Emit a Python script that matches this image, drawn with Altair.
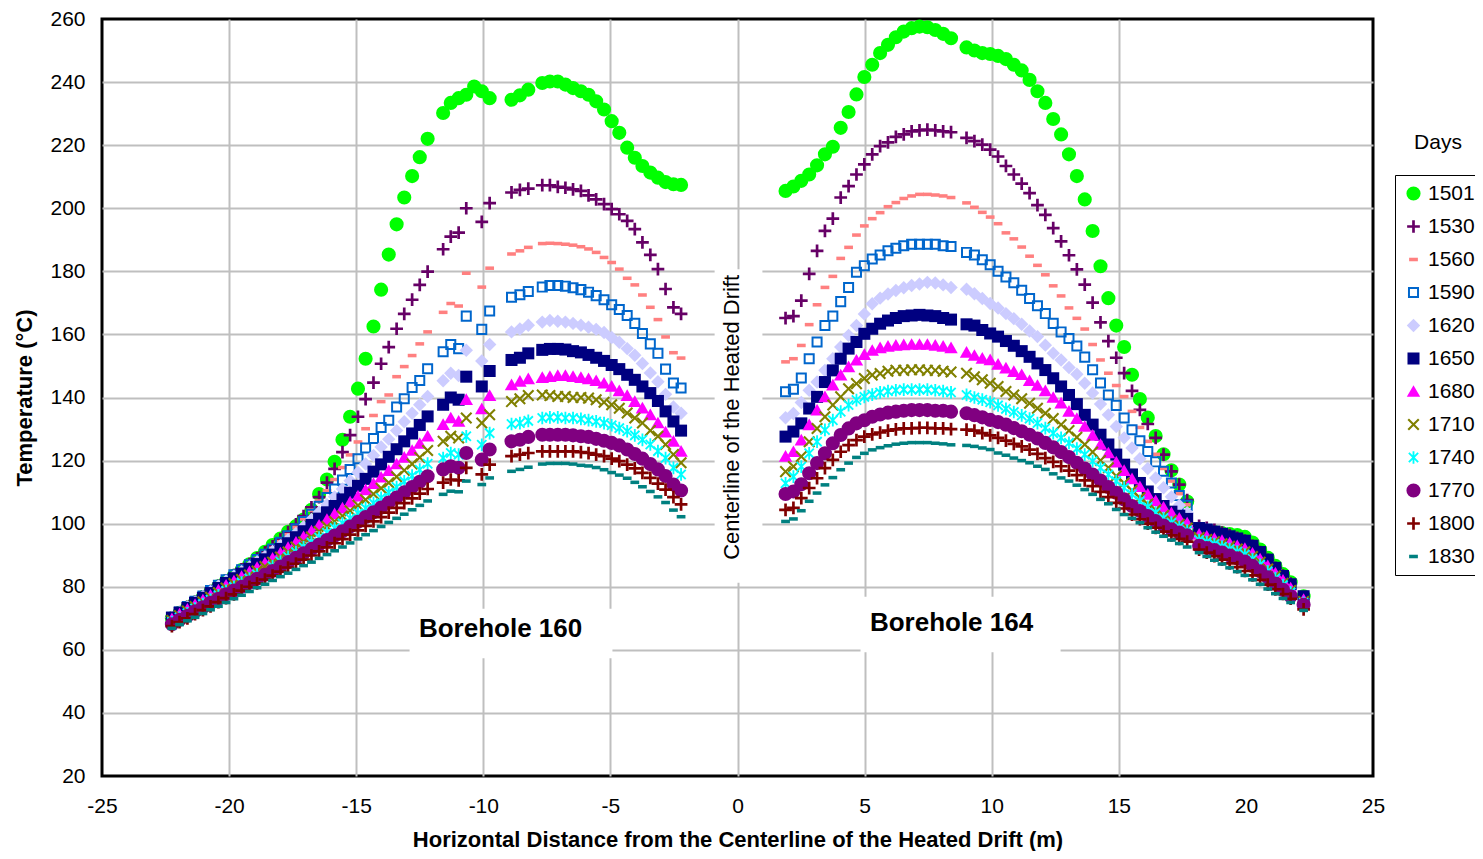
import altair as alt
import pandas as pd

# ---------------- x positions (m) ----------------
X160 = [-22.25, -21.95, -21.64, -21.34, -21.03, -20.73, -20.42, -20.12, -19.81, -19.51,
        -19.20, -18.90, -18.59, -18.29, -17.98, -17.68, -17.37, -17.07, -16.76, -16.46,
        -16.15, -15.85, -15.54, -15.24, -14.93, -14.63, -14.32, -14.02, -13.72, -13.41,
        -13.11, -12.80, -12.50, -12.19, -11.89, -11.58, -11.28, -10.97, -10.67, -10.36,
        -10.06, -9.75,
        -8.89, -8.56, -8.23,
        -7.68, -7.38, -7.07, -6.77, -6.47, -6.16, -5.86, -5.56, -5.25, -4.95,
        -4.65, -4.34, -4.04, -3.74, -3.43, -3.13, -2.83, -2.52, -2.22]
X164 = [1.89, 2.20, 2.51, 2.82, 3.13, 3.44, 3.75, 4.06, 4.37, 4.68, 4.99, 5.30, 5.61, 5.92,
        6.23, 6.54, 6.85, 7.16, 7.47, 7.78, 8.09, 8.40,
        9.01, 9.32, 9.63, 9.94, 10.25, 10.56, 10.87, 11.18, 11.49, 11.80, 12.11, 12.42,
        12.73, 13.04, 13.35, 13.66, 13.97, 14.28, 14.59, 14.90, 15.21, 15.52, 15.83, 16.14,
        16.45, 16.76, 17.07, 17.38, 17.69,
        18.16, 18.46, 18.76, 19.06, 19.36, 19.66, 19.96, 20.26, 20.56, 20.86, 21.16, 21.46,
        21.76,
        22.27]

DAYS = ["1501", "1530", "1560", "1590", "1620", "1650", "1680", "1710", "1740", "1770", "1800", "1830"]
COLORS = ["#00FF00", "#660066", "#FF8080", "#0066CC", "#CCCCFF", "#000080",
          "#FF00FF", "#808000", "#00FFFF", "#800080", "#800000", "#008080"]

# ---------------- Borehole 160 temperatures (deg C) ----------------
B160_1501 = [70.0, 71.7, 73.4, 75.0, 76.7, 78.4, 80.1, 81.8, 83.5, 85.3, 87.1, 89.1, 91.1, 93.2,
             95.3, 97.4, 99.2, 101.3, 104.4, 109.4, 114.0, 119.6, 126.6, 133.9, 142.8, 152.3,
             162.5, 174.2, 185.3, 194.9, 203.4, 210.2, 216.2, 222.0, None, 230.2, 233.4, 234.9,
             236.0, 238.6, 237.1, 234.9,
             234.4, 235.8, 237.6,
             239.7, 240.2, 240.2, 239.2, 238.1, 237.1, 236.0, 233.9, 231.3, 227.6, 223.9, 219.2,
             216.0, 213.4, 211.3, 209.7, 208.3, 207.6, 207.4]
B160_1530 = [70.2, 71.9, 73.6, 75.2, 76.9, 78.6, 80.3, 82.0, 83.7, 85.5, 87.2, 89.0, 90.9, 92.8,
             95.0, 97.3, 99.8, 102.4, 105.2, 108.4, 113.0, 117.4, 122.7, 128.1, 133.9, 139.5,
             144.7, 150.7, 156.0, 161.8, 166.5, 171.0, 175.7, 179.9, None, 187.0, 191.0, 192.3,
             200.0, None, 195.7, 201.6,
             205.0, 205.8, 206.2,
             207.3, 207.3, 206.8, 206.5, 206.0, 205.5, 204.1, 202.8, 201.3, 199.7, 198.1, 196.0,
             193.4, 189.2, 185.2, 180.7, 174.4, 168.6, 166.5]
B160_1560 = [70.2, 71.9, 73.6, 75.2, 76.9, 78.6, 80.3, 82.0, 83.6, 85.3, 87.0, 88.7, 90.4, 92.2,
             94.3, 96.5, 98.8, 101.5, 104.3, 107.2, 110.4, 114.0, 117.8, 121.8, 125.9, 130.1,
             134.3, 138.7, 140.8, 146.6, 149.8, 153.3, 157.0, 160.8, None, 167.0, 169.8, 169.0,
             179.4, None, 175.0, 181.0,
             185.5, 186.5, 187.6,
             188.8, 188.9, 188.8, 188.6, 188.3, 187.8, 187.1, 186.0, 184.4, 182.8, 180.7, 177.8,
             175.7, 172.5, 168.6, 164.7, 159.2, 154.2, 152.5]
B160_1590 = [70.3, 72.0, 73.7, 75.4, 77.1, 78.8, 80.5, 82.2, 83.8, 85.4, 87.0, 88.6, 90.3, 92.0,
             94.1, 96.2, 98.4, 100.7, 103.0, 105.5, 108.3, 111.0, 113.8, 117.2, 120.6, 124.0,
             127.0, 130.5, 132.8, 137.0, 139.6, 143.2, 145.4, 149.1, None, 154.5, 156.8, 155.5,
             165.8, None, 161.6, 167.4,
             171.8, 172.6, 173.6,
             175.0, 175.5, 175.5, 175.3, 174.8, 174.2, 173.4, 172.3, 171.0, 169.4, 167.9, 166.0,
             163.5, 160.3, 157.0, 154.0, 149.0, 144.6, 143.0]
B160_1620 = [70.3, 71.9, 73.6, 75.2, 76.9, 78.5, 80.2, 81.8, 83.3, 84.8, 86.3, 87.9, 89.5, 91.2,
             93.0, 94.9, 96.9, 99.0, 101.3, 103.6, 106.0, 108.5, 111.0, 113.6, 116.2, 118.9,
             121.6, 124.3, 126.8, 129.5, 132.3, 135.0, 137.7, 140.3, None, 145.3, 147.7, 147.0,
             155.0, None, 151.6, 156.8,
             160.8, 161.7, 162.9,
             163.9, 164.4, 164.2, 163.9, 163.5, 162.9, 162.3, 161.6, 160.6, 159.0, 157.5, 155.5,
             153.4, 150.8, 147.8, 145.0, 141.0, 137.0, 135.0]
B160_1650 = [70.2, 71.8, 73.3, 74.9, 76.5, 78.0, 79.6, 81.2, 82.7, 84.2, 85.7, 87.2, 88.7, 90.2,
             92.0, 93.8, 95.7, 97.6, 99.6, 101.6, 103.6, 105.6, 107.7, 109.8, 112.0, 114.2,
             116.5, 118.8, 121.2, 123.6, 126.1, 128.6, 131.3, 134.0, None, 137.7, 140.0, 139.3,
             146.6, None, 143.5, 148.4,
             151.9, 152.6, 154.0,
             155.1, 155.4, 155.4, 155.2, 154.7, 154.3, 153.5, 152.6, 151.6, 150.3, 149.0, 147.2,
             145.6, 143.5, 141.4, 138.9, 135.6, 132.4, 129.5]
B160_1680 = [69.8, 71.3, 72.8, 74.3, 75.8, 77.3, 78.9, 80.4, 81.8, 83.2, 84.7, 86.1, 87.5, 89.0,
             90.7, 92.4, 94.1, 95.8, 97.6, 99.5, 101.3, 103.1, 104.9, 106.8, 108.7, 110.7,
             112.7, 114.7, 116.8, 118.9, 121.0, 123.2, 125.4, 127.7, None, 131.4, 133.5, 132.4,
             139.3, None, 136.4, 140.6,
             144.0, 145.1, 145.9,
             146.3, 146.6, 146.9, 146.9, 146.6, 146.3, 145.9, 145.3, 144.5, 143.5, 142.1, 140.6,
             138.7, 136.6, 134.5, 131.9, 129.0, 126.1, 122.9]
B160_1710 = [69.3, 70.8, 72.3, 73.7, 75.2, 76.7, 78.1, 79.6, 81.0, 82.3, 83.7, 85.0, 86.4, 87.8,
             89.4, 91.0, 92.6, 94.2, 95.8, 97.5, 99.1, 100.7, 102.4, 104.1, 105.8, 107.6,
             109.4, 111.2, 113.0, 114.9, 116.9, 118.9, 121.0, 123.2, None, 126.1, 127.7, 127.2,
             133.5, None, 131.9, 134.5,
             138.7, 139.6, 140.6,
             140.8, 140.6, 140.3, 140.3, 140.0, 140.0, 139.8, 139.3, 138.5, 137.7, 136.6, 135.1,
             133.5, 131.9, 129.5, 127.7, 125.1, 121.9, 119.3]
B160_1740 = [68.8, 70.2, 71.6, 73.1, 74.5, 75.9, 77.3, 78.7, 80.0, 81.3, 82.6, 83.9, 83.1, 86.5,
             88.0, 89.5, 91.0, 92.5, 94.0, 95.6, 97.1, 98.6, 100.1, 101.7, 103.3, 104.9,
             106.5, 108.2, 109.9, 111.6, 113.4, 115.2, 117.1, 119.0, None, 120.8, 122.4, 121.9,
             127.7, None, 125.0, 128.7,
             131.6, 131.9, 132.6,
             133.5, 133.7, 133.7, 133.5, 133.5, 133.2, 132.8, 132.4, 131.9, 131.2, 130.3, 129.3,
             128.0, 126.6, 125.1, 123.0, 120.8, 117.7, 115.6]
B160_1770 = [68.1, 69.5, 70.8, 72.2, 73.5, 74.9, 76.2, 77.6, 78.8, 80.0, 81.3, 82.5, 83.8, 85.0,
             86.4, 87.8, 89.2, 90.6, 92.0, 93.4, 94.8, 96.2, 97.6, 99.1, 100.6, 102.1,
             103.6, 105.1, 106.7, 108.3, 109.9, 111.6, 113.3, 115.0, None, 117.2, 118.2, 117.7,
             122.4, None, 120.3, 123.5,
             126.1, 126.6, 127.5,
             128.2, 128.2, 128.2, 128.2, 128.0, 127.7, 127.5, 126.9, 126.3, 125.6, 124.8, 123.5,
             122.1, 120.6, 118.9, 117.2, 115.1, 112.4, 110.5]
B160_1800 = [67.5, 68.8, 70.0, 71.3, 72.6, 73.8, 75.1, 76.4, 77.6, 78.8, 80.0, 81.1, 82.3, 83.5,
             84.8, 86.1, 87.3, 88.6, 89.9, 91.2, 92.5, 93.8, 95.1, 96.5, 97.9, 99.3,
             100.7, 102.1, 103.5, 105.0, 106.5, 108.0, 109.5, 111.0, None, 113.0, 114.0, 113.7,
             117.7, None, 115.6, 118.7,
             121.4, 121.9, 122.4,
             122.9, 122.9, 122.9, 122.9, 122.9, 122.7, 122.4, 121.9, 121.4, 120.6, 119.8, 118.7,
             117.5, 116.1, 114.5, 112.7, 110.8, 108.4, 106.1]
B160_1830 = [66.8, 68.0, 69.2, 70.3, 71.5, 72.7, 73.8, 75.0, 76.2, 77.3, 78.5, 79.7, 80.8, 82.0,
             83.2, 84.3, 85.5, 86.7, 87.8, 89.0, 90.2, 91.4, 92.6, 93.9, 95.2, 96.5,
             97.8, 99.1, 100.4, 101.7, 103.0, 104.4, 105.8, 107.2, None, 109.3, 110.3, 110.1,
             113.5, None, 112.4, 114.5,
             116.6, 117.2, 117.9,
             118.9, 119.1, 119.1, 119.1, 118.9, 118.5, 118.3, 117.8, 117.1, 116.2, 115.4, 114.4,
             113.1, 111.7, 110.2, 108.5, 106.7, 104.3, 102.2]

# ---------------- Borehole 164 temperatures (deg C) ----------------
B164_1501 = [205.5, 206.9, 208.7, 210.7, 213.6, 217.1, 219.5, 225.5, 230.5, 236.1, 241.6, 245.5,
             249.2, 251.8, 254.2, 256.0, 257.1, 257.6, 257.4, 256.5, 255.3, 253.9,
             251.0, 250.0, 249.2, 248.9, 248.3, 247.3, 245.5, 243.7, 240.7, 237.1, 233.4, 228.3,
             223.4, 217.1, 210.2, 202.8, 192.8, 181.6, 171.5, 162.8, 156.0, 147.2, 139.5, 133.6,
             127.8, 122.0, 116.9, 112.4, 107.0,
             97.8, 97.6, 97.3, 97.0, 96.7, 96.4, 95.8, 94.0, 91.8, 89.2, 86.6, 84.0, 81.4,
             77.0]
B164_1530 = [165.2, 165.8, 170.7, 179.2, 186.5, 192.8, 196.7, 203.4, 207.0, 210.7, 213.9, 217.1,
             219.7, 220.9, 222.6, 223.4, 224.4, 224.7, 224.9, 224.7, 224.4, 224.1,
             222.3, 221.3, 220.2, 218.6, 216.4, 213.4, 210.7, 207.8, 204.8, 201.0, 197.9, 193.7,
             189.5, 185.1, 180.6, 175.8, 170.1, 163.8, 157.9, 152.6, 147.7, 142.1, 136.1, 131.6,
             127.2, 121.9, 116.6, 112.4, 107.5,
             99.3, 98.7, 98.0, 97.2, 96.4, 95.5, 94.6, 93.0, 91.0, 88.5, 86.0, 83.5, 81.0,
             76.5]
B164_1560 = [151.3, 152.3, 156.5, 163.1, 169.4, 174.9, 178.4, 184.1, 187.6, 191.5, 194.4, 196.7,
             198.6, 200.5, 201.8, 203.1, 203.9, 204.4, 204.4, 204.2, 203.9, 203.4,
             201.7, 200.3, 198.7, 197.2, 195.1, 192.2, 190.3, 187.7, 184.8, 181.9, 178.9, 175.4,
             172.2, 168.4, 165.1, 161.7, 156.8, 151.9, 147.7, 143.8, 140.3, 135.6, 130.5, 126.1,
             122.0, 117.5, 113.5, 109.5, 106.0,
             98.9, 98.3, 97.6, 96.8, 96.0, 95.1, 94.2, 92.6, 90.6, 88.2, 85.7, 83.2, 80.7,
             76.2]
B164_1590 = [141.8, 142.6, 146.2, 152.3, 157.6, 162.8, 165.8, 170.4, 174.9, 179.7, 181.8, 183.9,
             185.2, 186.5, 187.3, 188.1, 188.6, 188.6, 188.6, 188.6, 188.1, 187.9,
             186.0, 185.2, 183.7, 182.1, 180.0, 178.2, 176.4, 174.0, 171.4, 169.1, 166.6, 163.5,
             160.8, 158.7, 156.3, 152.8, 148.8, 144.6, 140.8, 137.5, 133.5, 129.8, 126.3, 122.9,
             119.6, 116.6, 112.9, 108.9, 105.8,
             98.8, 98.2, 97.5, 96.7, 95.8, 94.9, 94.0, 92.4, 90.4, 88.0, 85.5, 83.0, 80.6,
             76.3]
B164_1620 = [133.6, 134.9, 138.4, 142.3, 144.9, 148.6, 152.3, 156.0, 159.7, 162.8, 166.5, 169.7,
             171.5, 172.8, 173.9, 174.8, 175.5, 176.0, 176.5, 176.3, 175.7, 174.9,
             174.3, 172.9, 171.4, 169.8, 168.4, 166.6, 165.0, 163.2, 161.1, 159.3, 156.6, 154.0,
             151.9, 149.5, 147.4, 144.5, 141.4, 137.9, 134.5, 130.8, 127.2, 124.0, 120.6, 117.5,
             114.5, 111.4, 108.5, 105.8, 103.5,
             98.3, 97.7, 97.0, 96.2, 95.4, 94.5, 93.6, 92.0, 90.0, 87.7, 85.2, 82.8, 80.4,
             76.2]
B164_1650 = [127.6, 129.2, 131.8, 136.5, 140.2, 144.9, 148.6, 152.3, 155.5, 157.6, 160.2, 161.8,
             163.4, 164.4, 165.2, 165.8, 166.0, 166.2, 166.0, 165.8, 165.2, 164.7,
             163.2, 162.8, 161.4, 160.3, 159.3, 157.9, 156.4, 154.7, 152.9, 150.8, 148.7, 146.1,
             143.5, 140.8, 137.9, 134.5, 131.4, 128.2, 125.1, 121.9, 118.7, 115.6, 112.9, 110.2,
             107.8, 105.6, 103.8, 102.5, 101.5,
             98.6, 98.1, 97.5, 96.8, 96.0, 95.3, 94.6, 93.0, 91.0, 88.6, 86.0, 83.4, 80.8,
             77.0]
B164_1680 = [121.3, 122.8, 126.5, 131.3, 136.0, 140.2, 143.9, 147.1, 149.7, 151.8, 153.6, 154.9,
             155.7, 156.2, 156.5, 156.7, 156.8, 156.8, 156.8, 156.5, 156.2, 155.7,
             154.3, 153.3, 152.4, 151.9, 150.5, 149.3, 148.2, 147.2, 145.3, 143.8, 142.1, 140.0,
             138.2, 135.6, 133.3, 130.8, 128.0, 125.1, 122.4, 119.5, 116.8, 114.2, 111.7, 109.3,
             107.2, 105.2, 103.4, 101.7, 100.2,
             96.6, 96.0, 95.3, 94.6, 93.8, 93.0, 92.1, 90.6, 88.8, 86.6, 84.3, 82.0, 79.6,
             75.9]
B164_1710 = [116.5, 118.1, 121.3, 126.0, 130.2, 133.9, 137.6, 140.2, 142.8, 144.4, 146.0, 147.1,
             147.6, 148.3, 148.6, 148.6, 148.8, 148.8, 148.6, 148.6, 148.3, 148.1,
             147.7, 146.6, 145.6, 144.5, 143.5, 141.9, 140.8, 139.6, 138.2, 136.6, 135.0, 133.3,
             131.4, 129.5, 127.4, 125.1, 122.7, 120.0, 117.7, 115.1, 112.9, 110.5, 108.2, 106.2,
             104.3, 102.6, 101.1, 99.8, 98.6,
             95.6, 95.0, 94.3, 93.6, 92.8, 92.0, 91.1, 89.6, 87.8, 85.6, 83.4, 81.1, 78.8,
             75.3]
B164_1740 = [112.8, 114.9, 118.1, 122.3, 126.0, 129.7, 132.8, 135.5, 137.6, 139.2, 140.2, 140.9,
             141.6, 142.0, 142.3, 142.5, 142.5, 142.5, 142.5, 142.3, 142.0, 141.6,
             140.8, 140.0, 139.3, 138.5, 137.5, 136.4, 135.4, 134.3, 133.3, 131.9, 130.3, 128.7,
             127.2, 125.6, 123.8, 121.9, 119.8, 117.7, 115.6, 113.5, 111.4, 109.3, 107.2, 105.3,
             103.5, 101.8, 100.3, 99.0, 97.8,
             94.8, 94.2, 93.5, 92.7, 91.9, 91.1, 90.2, 88.8, 87.0, 84.9, 82.7, 80.5, 78.2,
             74.9]
B164_1770 = [109.4, 110.2, 112.5, 116.0, 119.2, 122.3, 125.5, 128.1, 130.2, 131.8, 132.8, 133.9,
             134.6, 135.2, 135.5, 135.8, 136.0, 136.0, 136.0, 135.8, 135.8, 135.5,
             135.0, 134.4, 133.7, 132.9, 132.2, 131.4, 130.3, 129.3, 128.2, 127.0, 125.6, 124.2,
             122.7, 121.1, 119.3, 117.5, 115.6, 113.7, 111.6, 109.8, 107.7, 105.6, 104.0, 102.4,
             100.8, 99.4, 98.2, 97.2, 96.3,
             93.0, 92.3, 91.6, 90.8, 89.9, 89.0, 88.0, 86.6, 84.9, 83.0, 81.0, 79.0, 77.0,
             74.3]
B164_1800 = [104.4, 105.0, 108.1, 111.3, 114.4, 117.6, 120.2, 122.8, 124.9, 126.5, 127.6, 128.3,
             128.9, 129.5, 129.9, 130.2, 130.2, 130.4, 130.4, 130.2, 130.2, 130.0,
             129.8, 129.5, 128.7, 128.0, 127.2, 126.3, 125.3, 124.5, 123.5, 122.1, 120.8, 119.6,
             118.2, 116.8, 115.4, 113.7, 111.9, 110.1, 108.4, 106.6, 104.8, 102.9, 101.4, 100.0,
             98.7, 97.5, 96.3, 95.2, 94.3,
             91.8, 90.8, 89.7, 88.6, 87.4, 86.2, 85.0, 83.6, 82.2, 80.7, 79.2, 77.7, 76.2,
             72.8]
B164_1830 = [100.7, 101.5, 104.1, 107.1, 109.7, 112.3, 114.6, 117.1, 119.2, 121.0, 122.3, 123.4,
             124.1, 124.7, 125.2, 125.5, 125.7, 125.7, 125.7, 125.5, 125.3, 125.0,
             124.8, 124.5, 124.0, 123.5, 122.4, 121.7, 120.8, 120.0, 119.3, 118.2, 117.2, 115.8,
             114.5, 113.5, 112.2, 110.8, 109.3, 107.7, 106.3, 104.5, 102.9, 101.7, 100.3, 98.7,
             97.3, 96.0, 94.8, 93.7, 92.6,
             90.8, 89.6, 88.4, 87.2, 86.0, 84.8, 83.6, 82.2, 80.8, 79.3, 77.8, 76.3, 75.0,
             72.5]

B160 = [B160_1501, B160_1530, B160_1560, B160_1590, B160_1620, B160_1650,
        B160_1680, B160_1710, B160_1740, B160_1770, B160_1800, B160_1830]
B164 = [B164_1501, B164_1530, B164_1560, B164_1590, B164_1620, B164_1650,
        B164_1680, B164_1710, B164_1740, B164_1770, B164_1800, B164_1830]

# ---------------- marker shapes (unit-box SVG paths) ----------------
SH_PLUS = "M-0.9,-0.19H-0.19V-0.9H0.19V-0.19H0.9V0.19H0.19V0.9H-0.19V0.19H-0.9Z"
SH_DASH = "M-0.62,-0.25H0.62V0.25H-0.62Z"
SH_OPEN_SQ = "M-0.78,-0.78H0.78V0.78H-0.78Z M-0.5,-0.5V0.5H0.5V-0.5Z"
SH_DIAMOND = "M0,-0.95L0.95,0L0,0.95L-0.95,0Z"
SH_SQUARE = "M-0.85,-0.85H0.85V0.85H-0.85Z"
SH_TRI = "M0,-0.9L0.95,0.75L-0.95,0.75Z"
SH_X = ("M-0.85,-0.64L-0.64,-0.85L0,-0.21L0.64,-0.85L0.85,-0.64L0.21,0L0.85,0.64"
        "L0.64,0.85L0,0.21L-0.64,0.85L-0.85,0.64L-0.21,0Z")
SH_STAR = ("M-0.75,-0.56L-0.56,-0.75L0,-0.19L0.56,-0.75L0.75,-0.56L0.19,0L0.75,0.56"
           "L0.56,0.75L0,0.19L-0.56,0.75L-0.75,0.56L-0.19,0Z M-0.13,-0.9H0.13V0.9H-0.13Z")
SHAPES = ["circle", SH_PLUS, SH_DASH, SH_OPEN_SQ, SH_DIAMOND, SH_SQUARE,
          SH_TRI, SH_X, SH_STAR, "circle", SH_PLUS, SH_DASH]

rows = []
for k, d in enumerate(DAYS):
    for xs, ys in ((X160, B160[k]), (X164, B164[k])):
        for xv, yv in zip(xs, ys):
            if yv is not None:
                rows.append({"x": xv, "t": yv, "days": d, "k": k})
df = pd.DataFrame(rows)

# ---------------- annotations ----------------
BOX_X1 = [-12.9, 4.84, -0.9]
BOX_X2 = [-4.92, 12.71, 0.98]
BOX_Y1 = [57.3, 59.2, 81.3]
BOX_Y2 = [73.05, 76.8, 180.7]
boxes = pd.DataFrame({"x1": BOX_X1, "x2": BOX_X2, "y1": BOX_Y1, "y2": BOX_Y2})

bh = pd.DataFrame({"label": ["Borehole 160", "Borehole 164"], "x": [-9.32, 8.42], "y": [66.7, 68.6]})
cl = pd.DataFrame({"label": ["Centerline of the Heated Drift"], "x": [-0.2], "y": [133.7]})
days_title = pd.DataFrame({"label": ["Days"]})

FONT = "Liberation Sans"
EDGE = "datum.value == -25 || datum.value == 25 || datum.value == 20 || datum.value == 260"
NEG = "datum.value < 0 ? '-' + abs(datum.value) : '' + datum.value"

xscale = alt.Scale(domain=[-25, 25], nice=False, zero=False)
yscale = alt.Scale(domain=[20, 260], nice=False, zero=False)

points = alt.Chart(df).mark_point(filled=True, opacity=1, size=200, strokeWidth=0).encode(
    x=alt.X("x:Q", scale=xscale,
            axis=alt.Axis(values=list(range(-25, 26, 5)), labelExpr=NEG, labelFlush=False,
                          gridOpacity=alt.condition(EDGE, alt.value(0), alt.value(1)),
                          title="Horizontal Distance from the Centerline of the Heated Drift (m)",
                          labelPadding=19, titlePadding=13)),
    y=alt.Y("t:Q", scale=yscale,
            axis=alt.Axis(values=list(range(20, 261, 20)), labelFlush=False,
                          gridOpacity=alt.condition(EDGE, alt.value(0), alt.value(1)),
                          title="Temperature (°C)", labelPadding=17, titlePadding=13)),
    color=alt.Color("days:N", scale=alt.Scale(domain=DAYS, range=COLORS),
                    legend=alt.Legend(title=None)),
    shape=alt.Shape("days:N", scale=alt.Scale(domain=DAYS, range=SHAPES),
                    legend=alt.Legend(title=None)),
    order=alt.Order("k:Q"),
)

rects = alt.Chart(boxes).mark_rect(color="white", opacity=1).encode(
    x="x1:Q", x2="x2:Q", y="y1:Q", y2="y2:Q")

bh_text = alt.Chart(bh).mark_text(font=FONT, fontSize=26, fontWeight="bold", color="black",
                                  align="center", baseline="middle").encode(
    x="x:Q", y="t:Q", text="label:N").transform_calculate(t="datum.y")

cl_text = alt.Chart(cl).mark_text(font=FONT, fontSize=22, color="black", angle=270,
                                  align="center", baseline="middle").encode(
    x="x:Q", y="t:Q", text="label:N").transform_calculate(t="datum.y")

days_text = alt.Chart(days_title).mark_text(font=FONT, fontSize=21, color="black",
                                            align="center", baseline="middle").encode(
    x=alt.value(1336), y=alt.value(124), text="label:N")

chart = alt.layer(rects, points, bh_text, cl_text, days_text).properties(
    width=1271, height=757,
    autosize=alt.AutoSizeParams(type="none"),
    padding={"left": 94, "top": 11, "right": 102, "bottom": 75},
).configure_view(
    stroke="black", strokeWidth=3
).configure_axis(
    grid=True, gridColor="#BFBFBF", gridWidth=2, domain=False, ticks=False,
    labelFont=FONT, labelFontSize=21, labelColor="black",
    titleFont=FONT, titleFontSize=22, titleFontWeight="bold", titleColor="black",
).configure_legend(
    orient="none", legendX=1293, legendY=156, padding=8,
    strokeColor="black", strokeWidth=1, fillColor="white",
    labelFont=FONT, labelFontSize=21, labelColor="black", labelOffset=4,
    symbolSize=200, symbolStrokeWidth=0, symbolOpacity=1, rowPadding=11,
)

chart.save("out.html", embed_options={"renderer": "svg", "actions": False})
